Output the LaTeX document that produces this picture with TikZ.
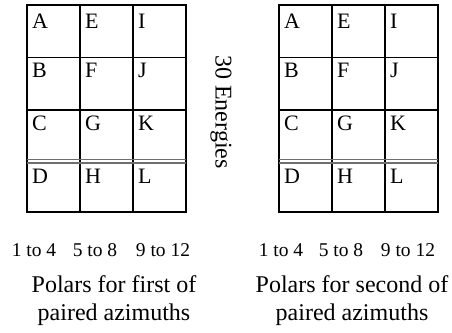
\documentclass[tikz,border=0pt]{standalone}
\usepackage{fontspec}
\setmainfont{Liberation Serif}
\usepackage{xcolor}
\definecolor{rule1}{HTML}{000000}
\definecolor{gray1}{HTML}{6E6E6E}
\newcommand{\cellfont}{\fontsize{22}{24}\selectfont}
\newcommand{\azifont}{\fontsize{19.5}{22}\selectfont}
\newcommand{\capfont}{\fontsize{24}{28}\selectfont}
\tikzset{
  cell/.style={anchor=base west,inner sep=0pt,font=\cellfont},
  azi/.style={anchor=base,inner sep=0pt,font=\azifont},
  caption/.style={anchor=base,inner sep=0pt,font=\capfont},
  gridline/.style={line width=1.2pt,color=rule1},
  splitline/.style={line width=1.3pt,color=gray1}
}

\begin{document}
\begin{tikzpicture}[x=1pt,y=-1pt]

\useasboundingbox (0,0) rectangle (452,332);

% first of paired azimuths
\begin{scope}
\draw[gridline] (27,5) rectangle (186,212);
\draw[gridline] (80,5) -- (80,212);
\draw[gridline] (133,5) -- (133,212);
\draw[gridline] (27,57.5) -- (186,57.5);
\draw[gridline] (27,110) -- (186,110);
\draw[splitline] (27,159.5) -- (186,159.5);
\draw[splitline] (27,163) -- (186,163);

\node[cell] (la) at (32,28) {A};
\node[cell] (lb) at (32,77) {B};
\node[cell] (lc) at (32,130) {C};
\node[cell] (ld) at (32,183) {D};
\node[cell] (le) at (85,28) {E};
\node[cell] (lf) at (85,77) {F};
\node[cell] (lg) at (85,130) {G};
\node[cell] (lh) at (85,183) {H};
\node[cell] (li) at (138,28) {I};
\node[cell] (lj) at (138,77) {J};
\node[cell] (lk) at (138,130) {K};
\node[cell] (ll) at (138,183) {L};
\end{scope}

% second of paired azimuths
\begin{scope}[shift={(252,0)}]
\draw[gridline] (27,5) rectangle (186,212);
\draw[gridline] (80,5) -- (80,212);
\draw[gridline] (133,5) -- (133,212);
\draw[gridline] (27,57.5) -- (186,57.5);
\draw[gridline] (27,110) -- (186,110);
\draw[splitline] (27,159.5) -- (186,159.5);
\draw[splitline] (27,163) -- (186,163);

\node[cell] (ra) at (32,28) {A};
\node[cell] (rb) at (32,77) {B};
\node[cell] (rc) at (32,130) {C};
\node[cell] (rd) at (32,183) {D};
\node[cell] (re) at (85,28) {E};
\node[cell] (rf) at (85,77) {F};
\node[cell] (rg) at (85,130) {G};
\node[cell] (rh) at (85,183) {H};
\node[cell] (ri) at (138,28) {I};
\node[cell] (rj) at (138,77) {J};
\node[cell] (rk) at (138,130) {K};
\node[cell] (rl) at (138,183) {L};
\end{scope}

\node[rotate=-90,inner sep=0pt,font=\capfont] (energies) at (221,112) {30 Energies};

\node[azi] (laz1) at (34,256) {1 to 4};
\node[azi] (laz2) at (95,256) {5 to 8};
\node[azi] (laz3) at (163,256) {9 to 12};
\node[azi] (raz1) at (281,256) {1 to 4};
\node[azi] (raz2) at (341,256) {5 to 8};
\node[azi] (raz3) at (408,256) {9 to 12};

\node[caption] (lcap1) at (114,292) {Polars for first of};
\node[caption] (lcap2) at (114,320) {paired azimuths};
\node[caption] (rcap1) at (352,292) {Polars for second of};
\node[caption] (rcap2) at (352,320) {paired azimuths};

\end{tikzpicture}
\end{document}
